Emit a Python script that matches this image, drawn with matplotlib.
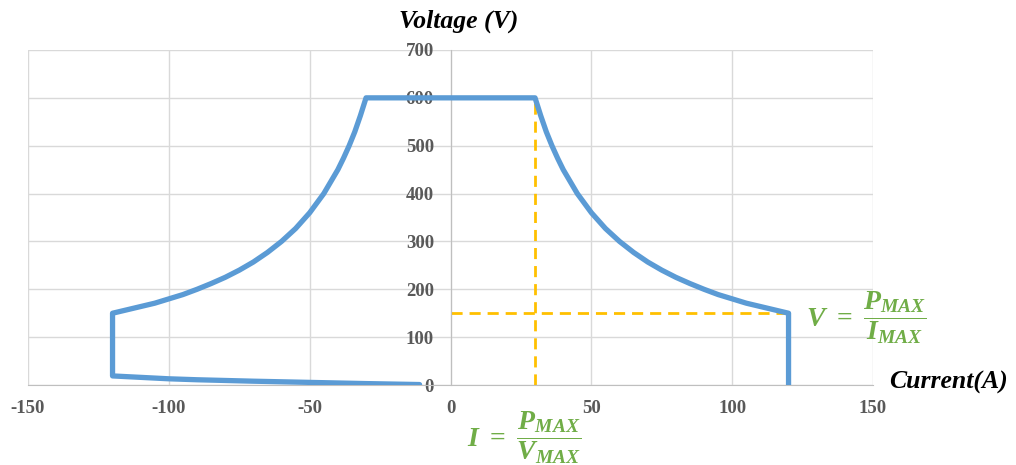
import matplotlib.pyplot as plt

# operating envelope (current in A, voltage in V)
current = [-11, -30, -50, -70, -90, -100, -110, -120,
           -120, -115, -110, -105, -100, -95, -90, -85, -80, -75, -70, -65,
           -60, -55, -50, -45, -40, -38, -36, -34, -32, -30,
           30, 32, 34, 36, 38, 40, 45, 50, 55, 60, 65, 70, 75, 80, 85, 90, 95, 100,
           105, 110, 115, 120, 120]
voltage = [1, 3, 5.5, 8, 11, 13, 16, 19,
           150, 157, 164, 171, 180, 189, 200, 212, 225, 240, 257, 277,
           300, 327, 360, 400, 450, 474, 500, 529, 563, 600,
           600, 563, 529, 500, 474, 450, 400, 360, 327, 300, 277, 257, 240, 225, 212, 200, 189, 180,
           171, 164, 157, 150, 0]

i_vmax = 30     # current at V_MAX / P_MAX
v_imax = 150    # voltage at I_MAX
v_max = 600
i_max = 120

x_ticks = [-150, -100, -50, 0, 50, 100, 150]
y_ticks = [0, 100, 200, 300, 400, 500, 600, 700]

plt.rcParams['font.family'] = ['Liberation Serif', 'DejaVu Serif']
plt.rcParams['axes.unicode_minus'] = False
plt.rcParams['mathtext.fontset'] = 'custom'
plt.rcParams['mathtext.rm'] = 'Liberation Serif:bold'
plt.rcParams['mathtext.it'] = 'Liberation Serif:bold:italic'
plt.rcParams['mathtext.bf'] = 'Liberation Serif:bold'

fig = plt.figure(figsize=(10.16, 4.65), dpi=100)
ax = fig.add_axes([0.0276, 0.172, 0.8317, 0.7205])

ax.set_xlim(-150, 150)
ax.set_ylim(0, 700)
ax.set_xticks(x_ticks)
ax.set_yticks(y_ticks)
ax.grid(True, color='#d9d9d9', linewidth=1)
ax.set_axisbelow(True)

for s in ['top', 'right']:
    ax.spines[s].set_visible(False)
ax.spines['left'].set_position(('data', 0))
ax.spines['left'].set_color('#bfbfbf')
ax.spines['bottom'].set_color('#bfbfbf')
ax.tick_params(length=0, labelsize=13.5, labelcolor='#595959')
ax.tick_params(axis='y', pad=12)
ax.tick_params(axis='x', pad=11)
for lab in ax.get_xticklabels() + ax.get_yticklabels():
    lab.set_fontweight('bold')

# dashed guide lines
ax.plot([i_vmax, i_vmax], [0, v_max], color='#ffc000', lw=2, ls=(0, (4, 2.5)), zorder=2)
ax.plot([0, i_max], [v_imax, v_imax], color='#ffc000', lw=2, ls=(0, (4, 2.5)), zorder=2)

# envelope
ax.plot(current, voltage, color='#5b9bd5', lw=3.8, solid_joinstyle='round',
        solid_capstyle='round', zorder=3)

fig.text(0.451, 0.955, 'Voltage (V)', ha='center', va='center',
         fontsize=18.5, fontweight='bold', fontstyle='italic')
fig.text(0.934, 0.178, 'Current(A)', ha='center', va='center',
         fontsize=18.5, fontweight='bold', fontstyle='italic')

green = '#70ad47'
fig.text(0.793, 0.316, r'$V\ =\ \dfrac{P_{MAX}}{I_{MAX}}$', ha='left', va='center',
         fontsize=20, color=green)
fig.text(0.516, 0.058, r'$I\ =\ \dfrac{P_{MAX}}{V_{MAX}}$', ha='center', va='center',
         fontsize=20, color=green)

fig.savefig('out.png', dpi=100)
